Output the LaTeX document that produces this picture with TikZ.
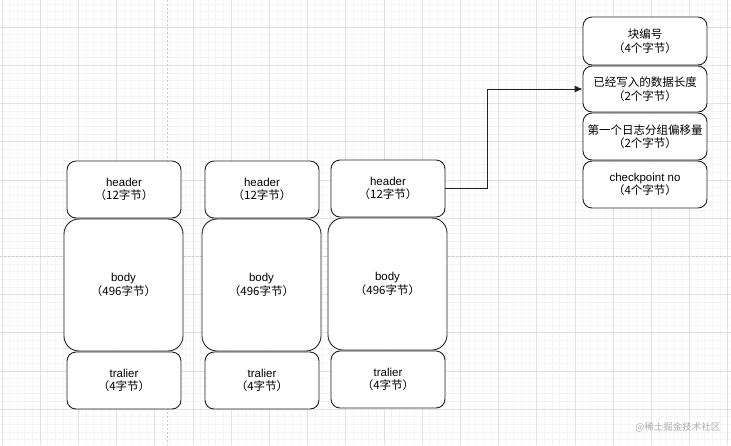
\documentclass[tikz,border=0pt]{standalone}
\usepackage{fontspec}
\setmainfont{Liberation Sans}
\newfontfamily\cjk{Noto Sans CJK SC}
\usetikzlibrary{arrows.meta}
\definecolor{gmajor}{HTML}{E2E2E2}
\definecolor{gminor}{HTML}{F4F4F4}
\definecolor{edge}{HTML}{222222}
\tikzset{
  cell/.style={draw=edge, line width=0.9pt, rounded corners=9pt, align=center,
    inner sep=0pt, font=\fontsize{11.5}{13.5}\selectfont, fill=white},
  smallcell/.style={cell, minimum width=114pt, minimum height=57pt},
  bigcell/.style={cell, rounded corners=15pt, minimum width=119pt, minimum height=132pt},
  fieldcell/.style={cell, minimum width=124pt},
  link/.style={draw=edge, line width=0.9pt, -{Latex[length=8pt,width=7pt]}}
}
\begin{document}
\begin{tikzpicture}[x=1pt,y=-1pt]
\useasboundingbox (0,0) rectangle (731,445);
\fill[white] (0,0) rectangle (731,445);
% minor grid
\foreach \i in {0,...,96} {
  \draw[gminor, line width=0.5pt] ({1.8+7.64*\i},0) -- ({1.8+7.64*\i},445);
}
\foreach \i in {0,...,59} {
  \draw[gminor, line width=0.5pt] (0,{4.1+7.64*\i}) -- (731,{4.1+7.64*\i});
}
% major grid
\foreach \i in {0,...,19} {
  \draw[gmajor, line width=0.6pt] ({1.8+38.2*\i},0) -- ({1.8+38.2*\i},445);
}
\foreach \i in {0,...,11} {
  \draw[gmajor, line width=0.6pt] (0,{27+38.2*\i}) -- (731,{27+38.2*\i});
}
\draw[gmajor!90!black, line width=0.7pt, dash pattern=on 2pt off 2pt] (167,0) -- (167,445);
\draw[gmajor!90!black, line width=0.7pt, dash pattern=on 2pt off 2pt] (0,256) -- (731,256);

% column 1
\node[smallcell] (h1) at (124,189.5) {header\\{\cjk （12字节）}};
\node[bigcell]   (b1) at (123.5,285) {body\\{\cjk （496字节）}};
\node[smallcell] (t1) at (124,380.5) {tralier\\{\cjk （4字节）}};
% column 2
\node[smallcell] (h2) at (262,189.5) {header\\{\cjk （12字节）}};
\node[bigcell]   (b2) at (261.5,285) {body\\{\cjk （496字节）}};
\node[smallcell] (t2) at (262,380.5) {tralier\\{\cjk （4字节）}};
% column 3
\node[smallcell] (h3) at (388,188.5) {header\\{\cjk （12字节）}};
\node[bigcell]   (b3) at (387.5,284) {body\\{\cjk （496字节）}};
\node[smallcell] (t3) at (388,379.5) {tralier\\{\cjk （4字节）}};

% header fields
\node[fieldcell, minimum height=48pt] (f1) at (645,41) {{\cjk 块编号}\\{\cjk （4个字节）}};
\node[fieldcell, minimum height=46pt] (f2) at (645,89) {{\cjk 已经写入的数据长度}\\{\cjk （2个字节）}};
\node[fieldcell, minimum height=47pt] (f3) at (645,136.5) {{\cjk 第一个日志分组偏移量}\\{\cjk （2个字节）}};
\node[fieldcell, minimum height=47pt] (f4) at (645,184.5) {checkpoint no\\{\cjk （4个字节）}};

\draw[link] (h3.east) -- ++(42,0) |- (f2.west);

\node[text=black!32, font=\cjk\fontsize{9.5}{11}\selectfont, anchor=east] (wm) at (724,427) {@稀土掘金技术社区};
\end{tikzpicture}
\end{document}
